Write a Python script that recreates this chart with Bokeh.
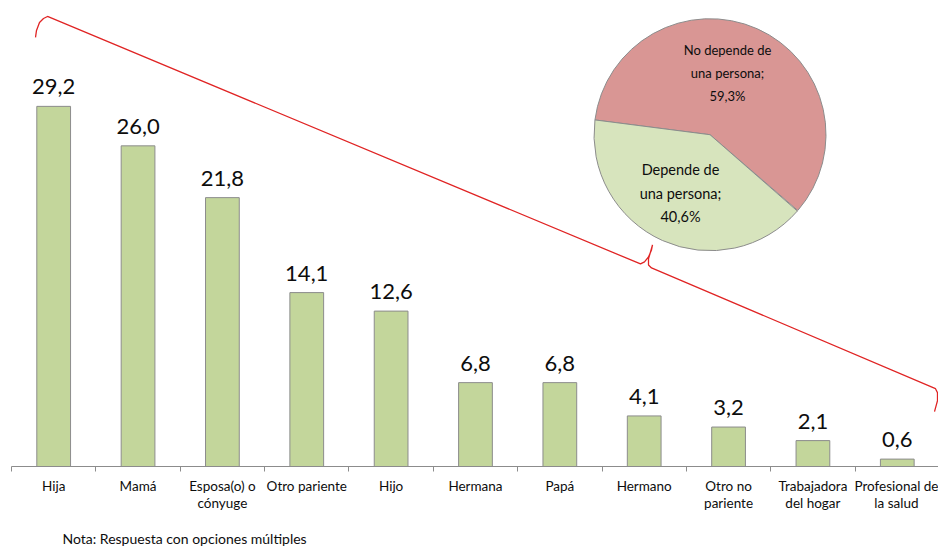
import numpy as np
from bokeh.plotting import figure
from bokeh.models import FixedTicker, Label, LabelSet, ColumnDataSource, Range1d, Title
from bokeh.core.properties import value
from bokeh.embed import file_html
from bokeh.resources import INLINE

# ---------------- data ----------------
categories = ["Hija", "Mamá", "Esposa(o) o\ncónyuge", "Otro pariente", "Hijo",
              "Hermana", "Papá", "Hermano", "Otro no\npariente",
              "Trabajadora\ndel hogar", "Profesional de\nla salud"]
values = [29.2, 26.0, 21.8, 14.1, 12.6, 6.8, 6.8, 4.1, 3.2, 2.1, 0.6]

pie_labels = ["No depende de\nuna persona", "Depende de\nuna persona"]
pie_values = [59.3, 40.6]

note = "Nota: Respuesta con opciones múltiples"

# ---------------- geometry / style ----------------
FONT = "Lato"
W, H = 938, 546
BASE_Y = 467       # screen y of the baseline
BOTTOM = H - BASE_Y
DX = 84.36         # px per category
DY = 12.36         # px per unit
X_START = -0.5 - 11 / DX
FRAME_H = BASE_Y

BAR_FILL = "#c3d69b"
OUTLINE = "#8c8c8c"
PIE_COLORS = ["#d99694", "#d7e4bd"]
BRACE = "#e02424"
TEXT = "#0d0d0d"


def px_x(sx):
    return X_START + sx / DX


def px_y(sy):
    return (FRAME_H - sy) / DY


p = figure(width=W, height=H, output_backend="svg", toolbar_location=None,
           x_range=Range1d(X_START, X_START + W / DX),
           y_range=Range1d(0, FRAME_H / DY),
           y_axis_location=None,
           min_border_left=0, min_border_right=0, min_border_top=0,
           min_border_bottom=BOTTOM)
p.outline_line_color = None
p.xgrid.visible = False
p.ygrid.visible = False

idx = list(range(len(categories)))

# bars
p.vbar(x=idx, top=values, width=0.4, fill_color=BAR_FILL, line_color=OUTLINE, line_width=1)

src = ColumnDataSource(dict(x=idx, y=values,
                            t=[f"{v:.1f}".replace(".", ",") for v in values]))
p.add_layout(LabelSet(x="x", y="y", text="t", source=src, y_offset=12,
                      text_align="center", text_baseline="alphabetic",
                      text_font=value(FONT), text_font_size="22px", text_color=TEXT))

# axis
ax = p.xaxis[0]
ax.ticker = FixedTicker(ticks=idx, minor_ticks=[i - 0.5 for i in range(len(categories) + 1)])
ax.major_label_overrides = {i: c for i, c in enumerate(categories)}
ax.bounds = (-0.5, len(categories) - 0.5)
ax.axis_line_color = OUTLINE
ax.major_tick_line_color = None
ax.major_tick_out = 0
ax.major_tick_in = 0
ax.minor_tick_line_color = OUTLINE
ax.minor_tick_out = 5
ax.minor_tick_in = 0
ax.major_label_standoff = 6
ax.major_label_text_font = FONT
ax.major_label_text_font_size = "13.5px"
ax.major_label_text_color = TEXT
ax.major_label_text_line_height = 1.1
# blank spacer below the tick labels, so that the note sits lower
ax.axis_label = " "
ax.axis_label_standoff = 0
ax.axis_label_text_font_size = "8.5px"

# note below the axis
p.add_layout(Title(text=note, align="left", offset=62, text_font=FONT,
                   text_font_size="14px", text_font_style="normal",
                   text_color=TEXT, standoff=0), "below")

# pie
PIE_START_DEG = -40.8
fr = np.array(pie_values) / 100.0 * 2 * np.pi
starts = np.deg2rad(PIE_START_DEG) + np.concatenate([[0.0], np.cumsum(fr)[:-1]])
ends = starts + fr
cx, cy = px_x(709.5), px_y(134.5)
p.wedge(x=cx, y=cy, radius=116, radius_units="screen",
        start_angle=starts, end_angle=ends,
        fill_color=PIE_COLORS, line_color=OUTLINE, line_width=1)

pie_texts = [f"{l};\n{v:.1f}%".replace(".", ",") for l, v in zip(pie_labels, pie_values)]
pie_label_pos = [(727, 72.5, "13px", 1.45), (680, 193, "14.5px", 1.4)]
for t, (lx, ly, fs, lh) in zip(pie_texts, pie_label_pos):
    p.add_layout(Label(x=px_x(lx), y=px_y(ly), text=t, text_align="center",
                       text_baseline="middle", text_font=FONT, text_font_size=fs,
                       text_line_height=lh, text_color=TEXT))

# brace
brace_px = [(35, 37), (36, 30), (39, 22), (43, 18), (47, 16),
            (640, 264), (644, 262), (648, 257), (651, 250), (652, 245),
            (650, 252), (648, 259), (648, 265), (651, 268),
            (935, 389), (937, 393), (937, 401), (934, 412)]
p.line(x=[px_x(a) for a, b in brace_px], y=[px_y(b) for a, b in brace_px],
       line_color=BRACE, line_width=1.3)

open("out.html", "w").write(file_html(p, INLINE))
